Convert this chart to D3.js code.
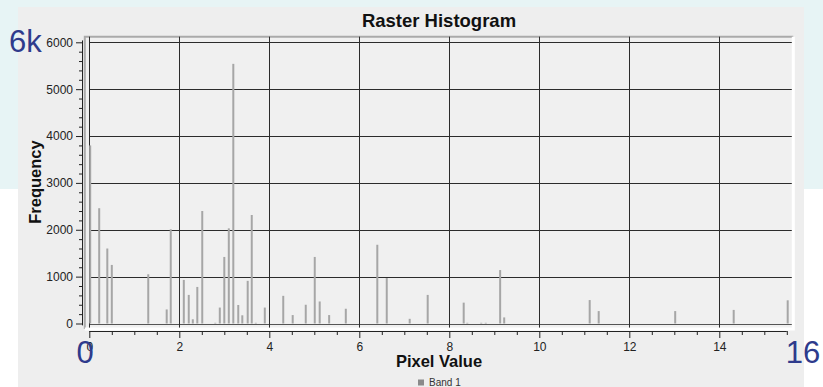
<!DOCTYPE html>
<html>
<head>
<meta charset="utf-8">
<script src="https://cdn.jsdelivr.net/npm/d3@7"></script>
<style>
  html, body { margin: 0; padding: 0; background: #fff; }
  svg { display: block; }
</style>
</head>
<body>
<div id="chart"></div>
<script>
// histogram bins (pixel value) and their counts
const pixelValues = [0.02, 0.22, 0.40, 0.50, 1.31, 1.72, 1.81, 2.10, 2.21, 2.30, 2.40, 2.51, 2.80, 2.90,
  3.00, 3.10, 3.20, 3.31, 3.40, 3.52, 3.61, 3.70, 3.90, 4.31, 4.52, 4.81, 5.01, 5.12, 5.33, 5.70,
  6.40, 6.61, 7.12, 7.52, 8.32, 8.40, 8.71, 8.81, 9.13, 9.22, 11.12, 11.32, 13.02, 14.32, 15.52];
const frequencies = [3800, 2460, 1600, 1250, 1050, 300, 2010, 930, 610, 90, 780, 2400, 15, 340,
  1420, 2030, 5540, 395, 175, 910, 2315, 15, 340, 590, 180, 400, 1420, 470, 180, 315,
  1680, 970, 100, 610, 445, 15, 15, 15, 1140, 130, 500, 265, 265, 290, 495];
const xTickLabels = [0, 2, 4, 6, 8, 10, 12, 14];
const yTickLabels = [0, 1000, 2000, 3000, 4000, 5000, 6000];
const seriesName = "Band 1";

const width = 823, height = 387;

const svg = d3.select("#chart").append("svg")
  .attr("width", width)
  .attr("height", height)
  .attr("viewBox", "0 0 " + width + " " + height);

// slide background + chart panel
svg.append("rect").attr("width", width).attr("height", 189).attr("fill", "#e7f4f5");
svg.append("rect").attr("x", 18).attr("y", 7).attr("width", 786).attr("height", 380).attr("fill", "#eeeeee");

const x = d3.scaleLinear().domain([0, 15.6]).range([89.3, 791.3]);
const y = d3.scaleLinear().domain([0, 6000]).range([323.5, 42.3]);

// canvas with sunken frame
const cx0 = x(-0.1), cx1 = x(15.6) + 2, cy0 = y(6120), cy1 = y(-120);
svg.append("rect").attr("x", cx0).attr("y", cy0).attr("width", cx1 - cx0).attr("height", cy1 - cy0)
  .attr("fill", "#f0f0f0");
svg.append("path")
  .attr("d", "M" + cx0 + "," + cy1 + "V" + cy0 + "H" + cx1)
  .attr("fill", "none").attr("stroke", "#aaaaaa").attr("stroke-width", 2);
svg.append("path")
  .attr("d", "M" + cx0 + "," + cy1 + "H" + cx1 + "V" + cy0)
  .attr("fill", "none").attr("stroke", "#ffffff").attr("stroke-width", 3);

// grid
const grid = svg.append("g").attr("stroke", "#2b2b2b").attr("stroke-width", 1);
grid.selectAll("line.h").data(yTickLabels).join("line")
  .attr("class", "h")
  .attr("x1", x(0)).attr("x2", cx1 - 1.5)
  .attr("y1", d => Math.round(y(d)) + 0.5).attr("y2", d => Math.round(y(d)) + 0.5)
  .attr("stroke", d => d === 0 ? "#555" : "#2b2b2b");
grid.selectAll("line.v").data(xTickLabels).join("line")
  .attr("class", "v")
  .attr("x1", d => Math.round(x(d)) + 0.5).attr("x2", d => Math.round(x(d)) + 0.5)
  .attr("y1", cy0).attr("y2", cy1 - 1.5);

// bars
svg.append("g")
  .selectAll("rect")
  .data(pixelValues.map((v, i) => ({ v: v, f: frequencies[i] })))
  .join("rect")
  .attr("x", d => x(d.v) - 1)
  .attr("y", d => y(d.f))
  .attr("width", 2)
  .attr("height", d => y(0) - y(d.f))
  .attr("fill", "#a6a6a6");

// y axis
const yAxis = d3.axisLeft(y)
  .tickValues(d3.range(0, 6001, 200))
  .tickSize(4)
  .tickFormat(d => d % 1000 === 0 ? d : "");
const gy = svg.append("g")
  .attr("transform", "translate(82,0)")
  .call(yAxis);
gy.select(".domain").remove();
gy.append("line").attr("x1", 0.5).attr("x2", 0.5).attr("y1", y(6040)).attr("y2", y(-40))
  .attr("stroke", "#222");
gy.selectAll(".tick line")
  .attr("x2", d => d % 1000 === 0 ? -6 : -3)
  .attr("stroke", "#222");
gy.selectAll(".tick text")
  .attr("x", -9)
  .attr("fill", "#222")
  .style("font", "12px 'Liberation Sans', Arial, sans-serif");

// x axis
const xAxis = d3.axisBottom(x)
  .tickValues(d3.range(0, 15.51, 0.5))
  .tickSize(4)
  .tickFormat(d => d % 2 === 0 ? d : "");
const gx = svg.append("g")
  .attr("transform", "translate(0,331)")
  .call(xAxis);
gx.select(".domain").remove();
gx.append("line").attr("x1", x(0)).attr("x2", x(15.5)).attr("y1", 0.5).attr("y2", 0.5)
  .attr("stroke", "#222");
gx.selectAll(".tick line")
  .attr("y2", d => d % 2 === 0 ? 7 : 4)
  .attr("stroke", "#222");
gx.selectAll(".tick text")
  .attr("y", 11)
  .attr("fill", "#222")
  .style("font", "12px 'Liberation Sans', Arial, sans-serif");

// titles
svg.append("text")
  .attr("x", 439).attr("y", 27)
  .attr("text-anchor", "middle")
  .attr("fill", "#111")
  .style("font", "bold 18.5px 'Liberation Sans', Arial, sans-serif")
  .text("Raster Histogram");

svg.append("text")
  .attr("x", 439).attr("y", 367)
  .attr("text-anchor", "middle")
  .attr("fill", "#111")
  .style("font", "bold 16.5px 'Liberation Sans', Arial, sans-serif")
  .text("Pixel Value");

svg.append("text")
  .attr("transform", "translate(41,182) rotate(-90)")
  .attr("text-anchor", "middle")
  .attr("fill", "#111")
  .style("font", "bold 16.5px 'Liberation Sans', Arial, sans-serif")
  .text("Frequency");

// legend
svg.append("rect").attr("x", 418).attr("y", 379.5).attr("width", 6).attr("height", 6).attr("fill", "#8a8a8a");
svg.append("text")
  .attr("x", 429).attr("y", 386)
  .attr("fill", "#333")
  .style("font", "10px 'Liberation Sans', Arial, sans-serif")
  .text(seriesName);

// slide annotations
const note = svg.append("g")
  .attr("fill", "#2e3b8c")
  .style("font", "31px 'Liberation Sans', Arial, sans-serif");
note.append("text").attr("x", 9).attr("y", 52).text("6k");
note.append("text").attr("x", 85).attr("y", 363).attr("text-anchor", "middle").text("0");
note.append("text").attr("x", 803).attr("y", 363).attr("text-anchor", "middle").text("16");
</script>
</body>
</html>
